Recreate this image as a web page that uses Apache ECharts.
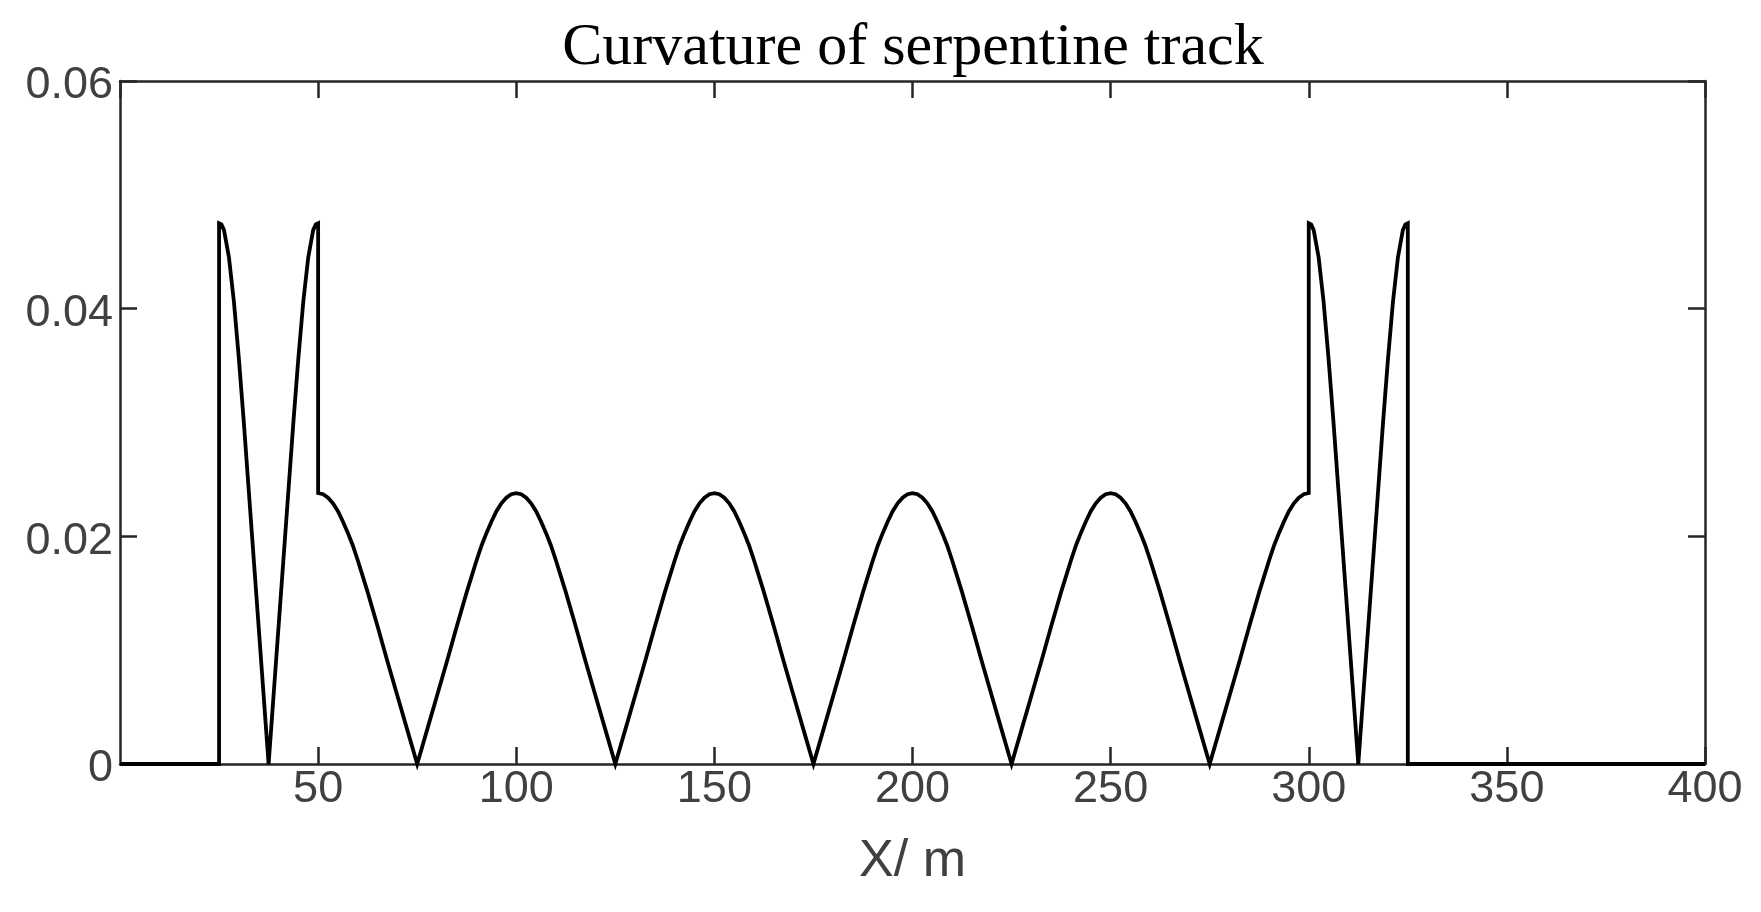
<!DOCTYPE html>
<html>
<head>
<meta charset="utf-8">
<script src="https://cdn.jsdelivr.net/npm/echarts@6/dist/echarts.min.js"></script>
<style>
html,body{margin:0;padding:0;background:#fff;}
#chart{width:1761px;height:912px;}
</style>
</head>
<body>
<div id="chart"></div>
<script>
// ---- data ----
const titleText = 'Curvature of serpentine track';
const xName = 'X/ m';
const xTicks = [0, 50, 100, 150, 200, 250, 300, 350, 400];
const yTicks = [0, 0.02, 0.04, 0.06];

// straight part before the track
const entryLeft = [[0, 0], [25, 0]];
// first tight loop (x in m, curvature)
const loopLeft = [
  [25, 0.0475], [25.6, 0.0474], [26.25, 0.0469], [27.5, 0.0445], [28.75, 0.0406],
  [30, 0.0356], [31.25, 0.0300], [32.5, 0.0240], [33.75, 0.0180], [35, 0.0120],
  [36.25, 0.0060], [37.5, 0],
  [38.75, 0.0060], [40, 0.0120], [41.25, 0.0180], [42.5, 0.0240], [43.75, 0.0300],
  [45, 0.0356], [46.25, 0.0406], [47.5, 0.0445], [48.75, 0.0469], [49.4, 0.0474], [50, 0.0475]
];
// serpentine arcs between x = 50 and x = 300
const arcs = [
  [50, 0.0238], [51.25, 0.0237], [52.5, 0.0234], [53.75, 0.0229], [55, 0.0222], [56.25, 0.0213], [57.5, 0.0203], [58.75, 0.0192], [60, 0.0179], [61.25, 0.0165], [62.5, 0.0151], [65, 0.0121], [67.5, 0.0090], [70, 0.0060], [72.5, 0.0030], [75, 0],
  [77.5, 0.0030], [80, 0.0060], [82.5, 0.0090], [85, 0.0121], [87.5, 0.0151], [88.75, 0.0165], [90, 0.0179], [91.25, 0.0192], [92.5, 0.0203], [93.75, 0.0213], [95, 0.0222], [96.25, 0.0229], [97.5, 0.0234], [98.75, 0.0237], [100, 0.0238],
  [101.25, 0.0237], [102.5, 0.0234], [103.75, 0.0229], [105, 0.0222], [106.25, 0.0213], [107.5, 0.0203], [108.75, 0.0192], [110, 0.0179], [111.25, 0.0165], [112.5, 0.0151], [115, 0.0121], [117.5, 0.0090], [120, 0.0060], [122.5, 0.0030], [125, 0],
  [127.5, 0.0030], [130, 0.0060], [132.5, 0.0090], [135, 0.0121], [137.5, 0.0151], [138.75, 0.0165], [140, 0.0179], [141.25, 0.0192], [142.5, 0.0203], [143.75, 0.0213], [145, 0.0222], [146.25, 0.0229], [147.5, 0.0234], [148.75, 0.0237], [150, 0.0238],
  [151.25, 0.0237], [152.5, 0.0234], [153.75, 0.0229], [155, 0.0222], [156.25, 0.0213], [157.5, 0.0203], [158.75, 0.0192], [160, 0.0179], [161.25, 0.0165], [162.5, 0.0151], [165, 0.0121], [167.5, 0.0090], [170, 0.0060], [172.5, 0.0030], [175, 0],
  [177.5, 0.0030], [180, 0.0060], [182.5, 0.0090], [185, 0.0121], [187.5, 0.0151], [188.75, 0.0165], [190, 0.0179], [191.25, 0.0192], [192.5, 0.0203], [193.75, 0.0213], [195, 0.0222], [196.25, 0.0229], [197.5, 0.0234], [198.75, 0.0237], [200, 0.0238],
  [201.25, 0.0237], [202.5, 0.0234], [203.75, 0.0229], [205, 0.0222], [206.25, 0.0213], [207.5, 0.0203], [208.75, 0.0192], [210, 0.0179], [211.25, 0.0165], [212.5, 0.0151], [215, 0.0121], [217.5, 0.0090], [220, 0.0060], [222.5, 0.0030], [225, 0],
  [227.5, 0.0030], [230, 0.0060], [232.5, 0.0090], [235, 0.0121], [237.5, 0.0151], [238.75, 0.0165], [240, 0.0179], [241.25, 0.0192], [242.5, 0.0203], [243.75, 0.0213], [245, 0.0222], [246.25, 0.0229], [247.5, 0.0234], [248.75, 0.0237], [250, 0.0238],
  [251.25, 0.0237], [252.5, 0.0234], [253.75, 0.0229], [255, 0.0222], [256.25, 0.0213], [257.5, 0.0203], [258.75, 0.0192], [260, 0.0179], [261.25, 0.0165], [262.5, 0.0151], [265, 0.0121], [267.5, 0.0090], [270, 0.0060], [272.5, 0.0030], [275, 0],
  [277.5, 0.0030], [280, 0.0060], [282.5, 0.0090], [285, 0.0121], [287.5, 0.0151], [288.75, 0.0165], [290, 0.0179], [291.25, 0.0192], [292.5, 0.0203], [293.75, 0.0213], [295, 0.0222], [296.25, 0.0229], [297.5, 0.0234], [298.75, 0.0237], [300, 0.0238]
];
// second tight loop
const loopRight = [
  [300, 0.0475], [300.6, 0.0474], [301.25, 0.0469], [302.5, 0.0445], [303.75, 0.0406],
  [305, 0.0356], [306.25, 0.0300], [307.5, 0.0240], [308.75, 0.0180], [310, 0.0120],
  [311.25, 0.0060], [312.5, 0],
  [313.75, 0.0060], [315, 0.0120], [316.25, 0.0180], [317.5, 0.0240], [318.75, 0.0300],
  [320, 0.0356], [321.25, 0.0406], [322.5, 0.0445], [323.75, 0.0469], [324.4, 0.0474], [325, 0.0475]
];
// straight part after the track
const exitRight = [[325, 0], [400, 0]];

const curve = entryLeft.concat(loopLeft, arcs, loopRight, exitRight);

// ---- styles ----
const axisColor = '#262626';
const labelColor = '#404040';
const axisLineStyle = { color: axisColor, width: 2.5 };

function yFmt(v) {
  return v === 0 ? '0' : v.toFixed(2);
}

const chart = echarts.init(document.getElementById('chart'), null, { renderer: 'canvas' });
chart.setOption({
  animation: false,
  backgroundColor: '#ffffff',
  title: {
    text: titleText,
    left: 908,
    textAlign: 'center',
    top: 13,
    textStyle: {
      fontFamily: 'Liberation Serif',
      fontSize: 60,
      fontWeight: 'normal',
      color: '#000000'
    }
  },
  grid: { left: 120, right: 56, top: 81, bottom: 148, containLabel: false },
  xAxis: [
    {
      type: 'value',
      position: 'bottom',
      min: xTicks[0],
      max: xTicks[xTicks.length - 1],
      interval: 50,
      name: xName,
      nameLocation: 'middle',
      nameGap: 72,
      nameTextStyle: { fontFamily: 'Liberation Sans', fontSize: 52, color: labelColor },
      axisLine: { show: true, onZero: false, lineStyle: axisLineStyle },
      axisTick: { show: true, inside: true, length: 17, lineStyle: axisLineStyle },
      axisLabel: {
        show: true, showMinLabel: false, margin: 3,
        fontFamily: 'Liberation Sans', fontSize: 45, color: labelColor
      },
      splitLine: { show: false }
    },
    {
      type: 'value',
      position: 'top',
      min: xTicks[0],
      max: xTicks[xTicks.length - 1],
      interval: 50,
      axisLine: { show: true, onZero: false, lineStyle: axisLineStyle },
      axisTick: { show: true, inside: true, length: 17, lineStyle: axisLineStyle },
      axisLabel: { show: false },
      splitLine: { show: false }
    }
  ],
  yAxis: [
    {
      type: 'value',
      position: 'left',
      min: yTicks[0],
      max: yTicks[yTicks.length - 1],
      interval: 0.02,
      axisLine: { show: true, onZero: false, lineStyle: axisLineStyle },
      axisTick: { show: true, inside: true, length: 17, lineStyle: axisLineStyle },
      axisLabel: {
        show: true, margin: 7, formatter: yFmt,
        verticalAlign: 'top', lineHeight: 10,
        fontFamily: 'Liberation Sans', fontSize: 45, color: labelColor
      },
      splitLine: { show: false }
    },
    {
      type: 'value',
      position: 'right',
      min: yTicks[0],
      max: yTicks[yTicks.length - 1],
      interval: 0.02,
      axisLine: { show: true, onZero: false, lineStyle: axisLineStyle },
      axisTick: { show: true, inside: true, length: 17, lineStyle: axisLineStyle },
      axisLabel: { show: false },
      splitLine: { show: false }
    }
  ],
  series: [
    {
      type: 'line',
      name: 'curvature',
      xAxisIndex: 0,
      yAxisIndex: 0,
      data: curve,
      showSymbol: false,
      symbol: 'none',
      smooth: false,
      clip: false,
      lineStyle: { color: '#000000', width: 3.8, join: 'miter' }
    }
  ]
});
</script>
</body>
</html>
